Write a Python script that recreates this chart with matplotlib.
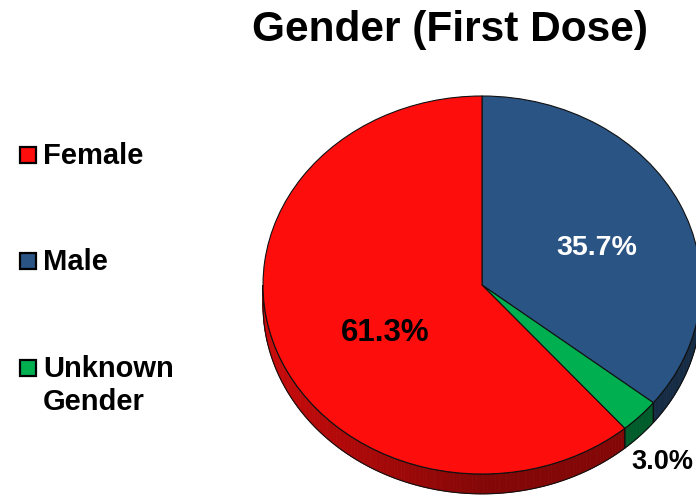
import numpy as np
import matplotlib
matplotlib.use('Agg')
import matplotlib.pyplot as plt
from matplotlib.patches import Polygon, Rectangle

# data
categories = ['Female', 'Male', 'Unknown\nGender']
shares = [61.3, 35.7, 3.0]
colors = ['#FE0D0D', '#2A5484', '#00B050']
title = 'Gender (First Dose)'

# pie is drawn clockwise from 12 o'clock: Male, Unknown, Female
pie_order = [1, 2, 0]

plt.rcParams['font.family'] = ['Liberation Sans', 'DejaVu Sans']
plt.rcParams['font.weight'] = 'bold'

W, H = 696, 498
fig = plt.figure(figsize=(W / 100, H / 100), dpi=100)

# pixel geometry of the ellipse (centre, radii) and depth of the side
cx, cy, rx, ry = 482, 285, 219, 189
depth = 0.105
xl = (-1.05, 1.05)
yl = (-1.2, 1.05)
ax = fig.add_axes([(cx + xl[0] * rx) / W, (H - (cy - yl[0] * ry)) / H,
                   (xl[1] - xl[0]) * rx / W, (yl[1] - yl[0]) * ry / H])

vals = [shares[i] for i in pie_order]
cols = [colors[i] for i in pie_order]
wedges, _ = ax.pie(vals, colors=cols, startangle=90, counterclock=False, radius=1,
                   wedgeprops=dict(edgecolor='#111111', linewidth=0.8), normalize=True)
for w in wedges:
    w.set_zorder(3)
ax.set_aspect('auto')
ax.set_xlim(*xl)
ax.set_ylim(*yl)
ax.axis('off')


def shade(c, f):
    rgb = np.array(matplotlib.colors.to_rgb(c))
    return tuple(rgb * f)


# side band of the disc (front half only)
for w, c in zip(wedges, cols):
    t1 = max(w.theta1, -180)
    t2 = min(w.theta2, 0)
    if t2 <= t1:
        continue
    ts = np.linspace(t1, t2, max(int((t2 - t1) / 1.0), 2) + 1)
    for a, b in zip(ts[:-1], ts[1:]):
        m = np.radians((a + b) / 2)
        f = 0.52 + 0.28 * max(0, -np.cos(m))
        ra, rb = np.radians(a), np.radians(b)
        pts = [(np.cos(ra), np.sin(ra)), (np.cos(rb), np.sin(rb)),
               (np.cos(rb), np.sin(rb) - depth), (np.cos(ra), np.sin(ra) - depth)]
        fc = shade(c, f)
        ax.add_patch(Polygon(pts, closed=True, facecolor=fc, edgecolor=fc,
                             linewidth=0.6, zorder=1))
    tt = np.radians(np.linspace(t1, t2, 200))
    top = np.column_stack([np.cos(tt), np.sin(tt)])
    bot = np.column_stack([np.cos(tt), np.sin(tt) - depth])[::-1]
    ax.add_patch(Polygon(np.vstack([top, bot]), closed=True, facecolor='none',
                         edgecolor='#111111', linewidth=0.8, zorder=2))

# percentage labels (radial distance plus a small nudge)
label_r = [0.5, 0.58, 1.15]
label_dx = [0.026, 0.003, -0.007]
label_dy = [-0.08, -0.056, -0.14]
label_c = ['black', 'white', 'black']
label_fs = [22.5, 20.5, 19.5]
for k, w in enumerate(wedges):
    i = pie_order[k]
    m = np.radians((w.theta1 + w.theta2) / 2)
    ax.text(label_r[i] * np.cos(m) + label_dx[i], label_r[i] * np.sin(m) + label_dy[i],
            f'{shares[i]:.1f}%', ha='center', va='center', fontsize=label_fs[i],
            fontweight='bold', color=label_c[i], zorder=5, clip_on=False)

# title
fig.text(450 / W, 1 - 30 / H, title, ha='center', va='center', fontsize=30.5,
         fontweight='bold')

# legend on the left
sq = 16
for i, (lab, c) in enumerate(zip(categories, colors)):
    yc = 155 + i * 106.5
    fig.add_artist(Rectangle(((27.5 - sq / 2) / W, 1 - (yc + sq / 2) / H), sq / W, sq / H,
                             transform=fig.transFigure, facecolor=c,
                             edgecolor='black', linewidth=1.6))
    fig.text(43 / W, 1 - (yc - 13) / H, lab, ha='left', va='top', fontsize=21,
             fontweight='bold', linespacing=1.25)

fig.savefig('out.png', dpi=100)
